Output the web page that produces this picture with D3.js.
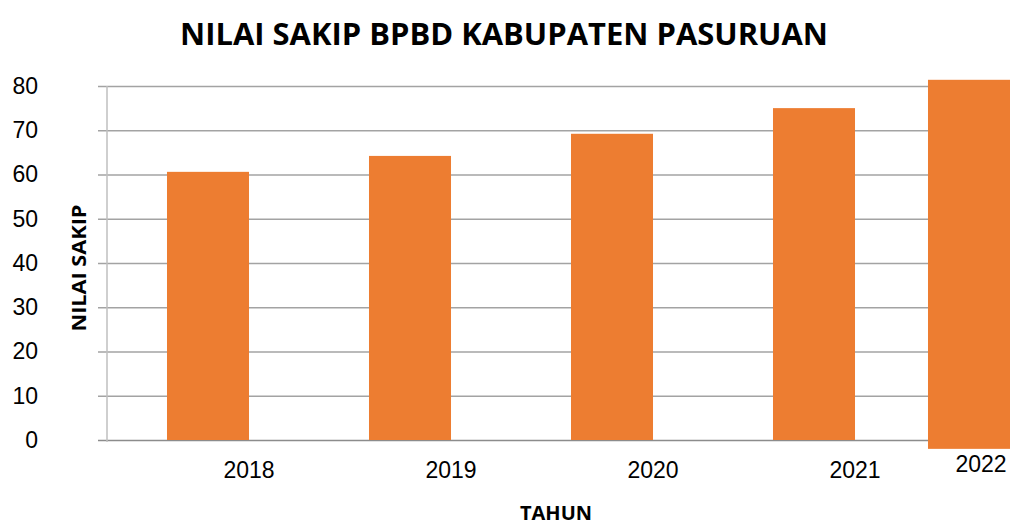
<!DOCTYPE html>
<html>
<head>
<meta charset="utf-8">
<script src="https://cdn.jsdelivr.net/npm/d3@7"></script>
<style>
  body { margin: 0; background: #fff; }
  svg { display: block; }
</style>
</head>
<body>
<svg id="chart"></svg>
<script>
// data
const years = ['2018', '2019', '2020', '2021', '2022'];
const sakip = [60.6, 64.2, 69.2, 75.0, 81.4];
const yTicks = [0, 10, 20, 30, 40, 50, 60, 70, 80];

const W = 1010, H = 525;
const plot = {left: 107, right: 1010, top: 86, bottom: 440};
const step = 202;

const svg = d3.select('#chart').attr('width', W).attr('height', H);

const x = d3.scaleBand()
  .domain(years)
  .range([plot.left, plot.left + step * years.length])
  .paddingInner(0.594)
  .paddingOuter(0.297);

const y = d3.scaleLinear()
  .domain([0, 80])
  .range([plot.bottom, plot.top]);

// title
svg.append('text')
  .attr('x', 504).attr('y', 45)
  .attr('text-anchor', 'middle')
  .attr('textLength', 648)
  .attr('lengthAdjust', 'spacingAndGlyphs')
  .style('font-family', 'Open Sans, sans-serif')
  .style('font-size', '30px')
  .style('font-weight', 'bold')
  .text('NILAI SAKIP BPBD KABUPATEN PASURUAN');

// gridlines + y labels
const yAxis = d3.axisLeft(y)
  .tickValues(yTicks)
  .tickSize(-(plot.right - 98))
  .tickPadding(60);

const yAxisG = svg.append('g')
  .attr('transform', 'translate(98,0)')
  .call(yAxis);
yAxisG.select('.domain').remove();
yAxisG.selectAll('.tick line')
  .attr('stroke', d => d === 0 ? '#8c8c8c' : '#a3a3a3')
  .attr('stroke-width', 1.5);
yAxisG.selectAll('.tick text')
  .style('font-family', 'Liberation Sans, Arial, sans-serif')
  .style('font-size', '23px')
  .attr('fill', '#000');

// vertical axis line
svg.append('line')
  .attr('x1', plot.left).attr('x2', plot.left)
  .attr('y1', y(80)).attr('y2', y(0) + 2)
  .attr('stroke', '#bfbfbf')
  .attr('stroke-width', 1.5);

// the 2022 bar sits pasted in, shifted left and hanging below the baseline
const shift = d => d === '2022' ? -47 : 0;
const base = d => d === '2022' ? y(-2) : y(0);

svg.append('g')
  .selectAll('rect')
  .data(years)
  .join('rect')
  .attr('x', d => x(d) + shift(d))
  .attr('y', (d, i) => y(sakip[i]))
  .attr('width', x.bandwidth())
  .attr('height', (d, i) => base(d) - y(sakip[i]))
  .attr('fill', '#ED7D31');

// x labels
const xAxis = d3.axisBottom(x).tickSize(0).tickPadding(22);
const xAxisG = svg.append('g')
  .attr('transform', `translate(${x.bandwidth() / 2},${plot.bottom})`)
  .call(xAxis);
xAxisG.select('.domain').remove();
xAxisG.selectAll('.tick text')
  .style('font-family', 'Liberation Sans, Arial, sans-serif')
  .style('font-size', '23px')
  .attr('fill', '#000');
xAxisG.selectAll('.tick')
  .filter(d => d === '2022')
  .attr('transform', d => `translate(${x(d) + shift(d) + 12},-6)`);

// axis titles
svg.append('text')
  .attr('x', 556).attr('y', 520)
  .attr('text-anchor', 'middle')
  .style('font-family', 'Open Sans, sans-serif')
  .style('font-size', '20px')
  .style('font-weight', 'bold')
  .text('TAHUN');

svg.append('text')
  .attr('transform', 'translate(86,268) rotate(-90)')
  .attr('text-anchor', 'middle')
  .attr('textLength', 127)
  .attr('lengthAdjust', 'spacingAndGlyphs')
  .style('font-family', 'Open Sans, sans-serif')
  .style('font-size', '20px')
  .style('font-weight', 'bold')
  .text('NILAI SAKIP');
</script>
</body>
</html>
